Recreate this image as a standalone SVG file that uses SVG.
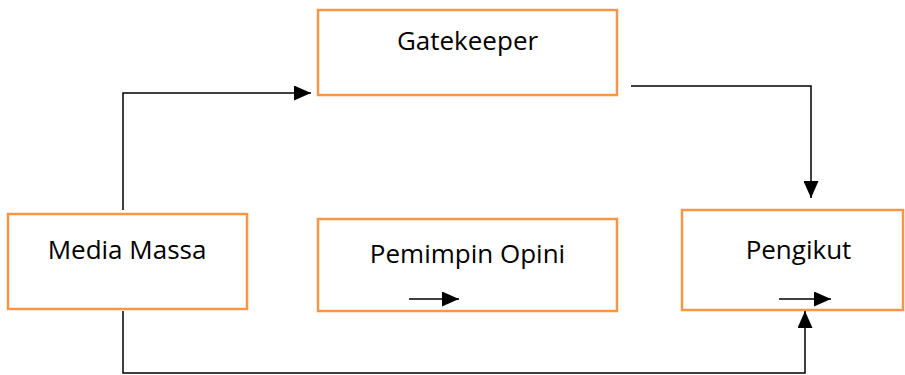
<svg xmlns="http://www.w3.org/2000/svg" width="905" height="375" viewBox="0 0 905 375">
<defs>
<style>
.box{fill:#fff;stroke:#F79646;stroke-width:2.5}
.lbl{font-family:"Open Sans","Liberation Sans",sans-serif;font-size:26px;fill:#000;text-anchor:middle}
.con{fill:none;stroke:#000;stroke-width:1.5}
</style>
<marker id="ah" markerUnits="userSpaceOnUse" markerWidth="17" markerHeight="15" refX="17" refY="7.5" orient="auto">
<path d="M0,0 L17,7.5 L0,15 Z" fill="#000"/>
</marker>
</defs>
<g id="gatekeeper">
<rect class="box" x="318" y="10" width="299" height="85"/>
<text class="lbl" x="467.5" y="50">Gatekeeper</text>
</g>
<g id="media-massa">
<rect class="box" x="8" y="214" width="239" height="95"/>
<text class="lbl" x="127" y="259">Media Massa</text>
</g>
<g id="pemimpin-opini">
<rect class="box" x="318" y="219" width="299" height="92"/>
<text class="lbl" x="467.5" y="263">Pemimpin Opini</text>
</g>
<g id="pengikut">
<rect class="box" x="682" y="210" width="221" height="100"/>
<text class="lbl" x="798.5" y="259">Pengikut</text>
</g>
<g id="connectors">
<polyline class="con" points="123,210 123,93 311,93" marker-end="url(#ah)"/>
<polyline class="con" points="631,86 811,86 811,198" marker-end="url(#ah)"/>
<polyline class="con" points="123,311 123,373 805,373 805,311" marker-end="url(#ah)"/>
<line class="con" x1="409" y1="299" x2="459" y2="299" marker-end="url(#ah)"/>
<line class="con" x1="779" y1="299" x2="831" y2="299" marker-end="url(#ah)"/>
</g>
</svg>
